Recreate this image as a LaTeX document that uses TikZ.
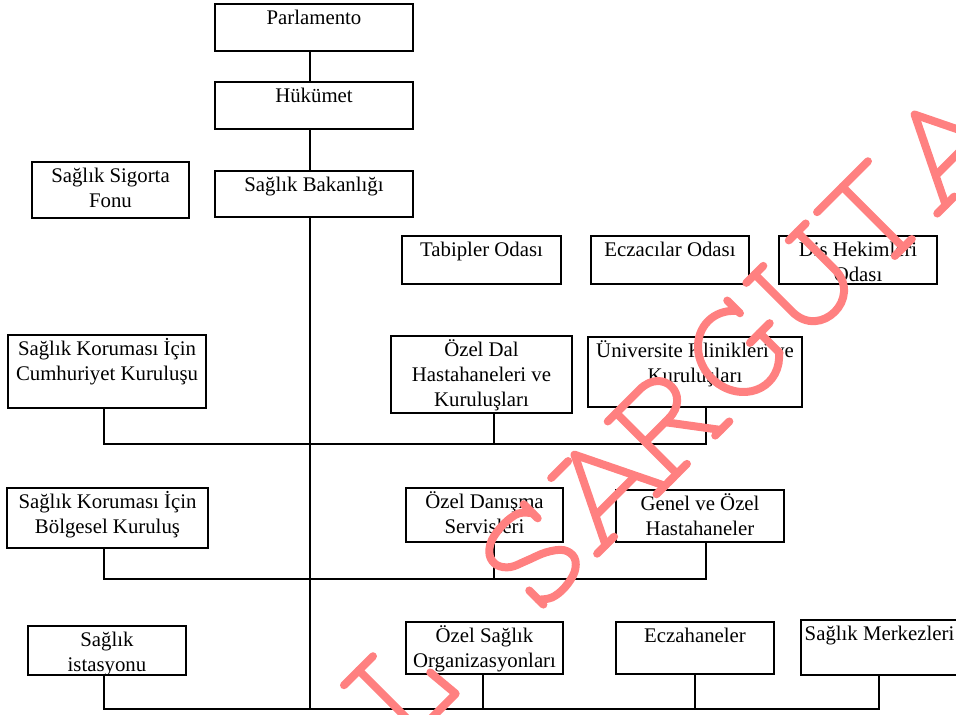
\documentclass[tikz,border=0pt]{standalone}
\usepackage{fontspec}
\setmainfont{Liberation Serif}
\usetikzlibrary{fit}
\definecolor{wmred}{RGB}{255,128,128}
\newcommand\orgbox[6]{%
  \node[boxst, fit={(#2,#3) (#4,#5)}] (#1) {};
  \node[lbl] (#1-t) at ([yshift=-0.5pt]#1.north) {\rule{0pt}{10pt}#6};
}
\begin{document}
\begin{tikzpicture}[x=0.5pt, y=-0.5pt,
  boxst/.style={draw, line width=1pt, inner sep=0pt},
  lbl/.style={anchor=north, inner sep=0pt, align=center, font=\fontsize{10.4}{12.5}\selectfont},
  conn/.style={line width=1pt},
  wmstroke/.style={draw=wmred, line width=4pt, line cap=round, line join=round}]
\useasboundingbox (0,0) rectangle (956,715);

\orgbox{parl}{215}{4}{413}{51}{Parlamento}
\orgbox{huk}{215}{82}{413}{129}{Hükümet}
\orgbox{sgf}{32}{162}{189}{218}{Sağlık Sigorta\\Fonu}
\orgbox{bak}{215}{171}{413}{217}{Sağlık Bakanlığı}
\orgbox{tab}{402}{236}{561}{284}{Tabipler Odası}
\orgbox{ecz}{591}{236}{749}{284}{Eczacılar Odası}
\orgbox{dis}{779}{236}{937}{284}{Diş Hekimleri\\Odası}
\orgbox{cum}{8}{335}{206}{408}{Sağlık Koruması İçin\\Cumhuriyet Kuruluşu}
\orgbox{ozd}{391}{336}{572}{413}{Özel Dal\\Hastahaneleri ve\\Kuruluşları}
\orgbox{uni}{588}{337}{802}{407}{Üniversite Klinikleri ve\\Kuruluşları}
\orgbox{bol}{7}{488}{208}{548}{Sağlık Koruması İçin\\Bölgesel Kuruluş}
\orgbox{dan}{406}{488}{563}{542}{Özel Danışma\\Servisleri}
\orgbox{gen}{616}{490}{784}{542}{Genel ve Özel\\Hastahaneler}
\orgbox{ist}{28}{626}{186}{675}{Sağlık\\istasyonu}
\orgbox{ozs}{406}{622}{563}{674}{Özel Sağlık\\Organizasyonları}
\orgbox{ezh}{616}{622}{774}{674}{Eczahaneler}
\orgbox{mer}{801}{620}{958}{675}{Sağlık Merkezleri}

% spine
\coordinate (s0) at (310,709);
\draw[conn] (parl.south -| s0) -- (huk.north -| s0);
\draw[conn] (huk.south -| s0) -- (bak.north -| s0);
\draw[conn] (bak.south -| s0) -- (s0);

% level 1
\coordinate (h1a) at (104,444);
\coordinate (h1b) at (494,444);
\coordinate (h1c) at (706,444);
\draw[conn] (cum.south -| h1a) -- (h1a) -- (h1c) -- (uni.south -| h1c);
\draw[conn] (ozd.south -| h1b) -- (h1b);

% level 2
\coordinate (h2a) at (104,579);
\coordinate (h2b) at (494,579);
\coordinate (h2c) at (706,579);
\draw[conn] (bol.south -| h2a) -- (h2a) -- (h2c) -- (gen.south -| h2c);
\draw[conn] (dan.south -| h2b) -- (h2b);

% level 3
\coordinate (h3a) at (104,709);
\coordinate (h3b) at (483,709);
\coordinate (h3c) at (695,709);
\coordinate (h3d) at (879,709);
\draw[conn] (ist.south -| h3a) -- (h3a) -- (h3d) -- (mer.south -| h3d);
\draw[conn] (ozs.south -| h3b) -- (h3b);
\draw[conn] (ezh.south -| h3c) -- (h3c);

% watermark
\begin{scope}[shift={(525,565)}, x=0.5pt, y=0.5pt, rotate=45]
  % I
  \draw[wmstroke] (-213,43) -- (-172,43);
  \draw[wmstroke] (-192,43) -- (-192,-43);
  % partial letter
  \draw[wmstroke] (-143,-9) -- (-140,-42) -- (-190,-42);
  % S
  \draw[wmstroke] (42,44) -- (42,24);
  \draw[wmstroke] plot[smooth, tension=0.6] coordinates {(42,31) (32,41) (14,44) (-6,41) (-18,32) (-20,20) (-12,9) (4,2) (24,-6) (38,-17) (40,-30) (30,-40) (12,-44) (-4,-42) (-15,-34)};
  \draw[wmstroke] (-15,-21) -- (-15,-41);
  % A
  \draw[wmstroke] (71,-43) -- (113,43) -- (155,-43);
  \draw[wmstroke] (85,-15) -- (141,-15);
  \draw[wmstroke] (59,-43) -- (83,-43);
  \draw[wmstroke] (143,-43) -- (167,-43);
  \draw[wmstroke] (80,43) -- (104,43);
  % R
  \draw[wmstroke] (172,43) -- (172,-43);
  \draw[wmstroke] (160,43) -- (205,43) .. controls (238,43) and (238,2) .. (205,2) -- (172,2);
  \draw[wmstroke] (200,2) -- (234,-43);
  \draw[wmstroke] (160,-43) -- (186,-43);
  \draw[wmstroke] (226,-43) -- (246,-43);
  % G
  \draw[wmstroke] (302,0) ++(45:38 and 43) arc[start angle=45, end angle=318, x radius=38, y radius=43];
  \draw[wmstroke] (330,26) -- (330,44);
  \draw[wmstroke] (330,-30) -- (330,-2);
  \draw[wmstroke] (316,-2) -- (344,-2);
  % U
  \draw[wmstroke] (368,43) -- (368,-10) .. controls (368,-50) and (428,-50) .. (428,-10) -- (428,43);
  \draw[wmstroke] (356,43) -- (380,43);
  \draw[wmstroke] (416,43) -- (440,43);
  % T
  \draw[wmstroke] (456,43) -- (528,43);
  \draw[wmstroke] (492,43) -- (492,-43);
  \draw[wmstroke] (480,-43) -- (504,-43);
  % A
  \draw[wmstroke] (552,-43) -- (594,43) -- (636,-43);
  \draw[wmstroke] (566,-15) -- (622,-15);
  \draw[wmstroke] (540,-43) -- (564,-43);
  \draw[wmstroke] (624,-43) -- (648,-43);
\end{scope}
\end{tikzpicture}
\end{document}
